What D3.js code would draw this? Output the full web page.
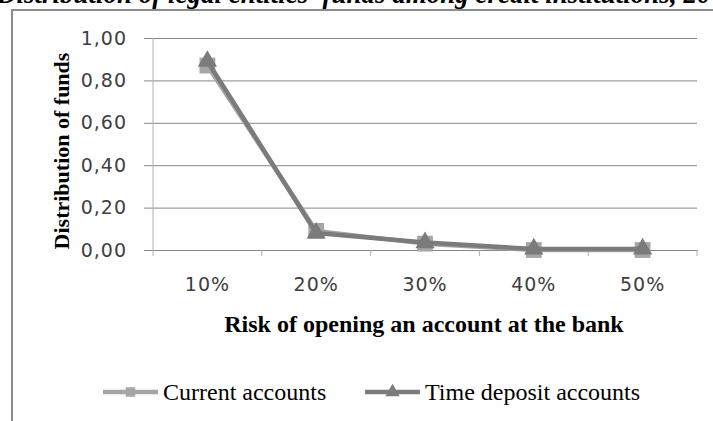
<!DOCTYPE html>
<html>
<head>
<meta charset="utf-8">
<script src="https://cdn.jsdelivr.net/npm/d3@7"></script>
<style>
  body { margin: 0; background: #fff; }
  svg { display: block; }
</style>
</head>
<body>
<div id="chart"></div>
<script>
// data
const categories = ['10%', '20%', '30%', '40%', '50%'];
const currentAccounts = [0.87, 0.09, 0.03, 0.00, 0.00];
const timeDeposits = [0.89, 0.08, 0.035, 0.005, 0.005];
const yTicks = [0, 0.2, 0.4, 0.6, 0.8, 1.0];

const width = 713, height = 421;
const margin = { top: 38, right: 16, bottom: 171, left: 153 };
const innerW = width - margin.left - margin.right;
const innerH = height - margin.top - margin.bottom;
const serif = '"Liberation Serif", "Times New Roman", serif';
const sans = '"DejaVu Sans", sans-serif';

const svg = d3.select('#chart').append('svg').attr('width', width).attr('height', height);

// title, cut off at the top of the page
svg.append('text').attr('x', -3).attr('y', 3)
  .style('font-family', serif).style('font-weight', 'bold')
  .style('font-style', 'italic').style('font-size', '27px').attr('fill', '#000')
  .text("Distribution of legal entities' funds among credit institutions, 20");

// chart frame (right and bottom edges fall outside the picture)
svg.append('rect').attr('x', 12).attr('y', 10).attr('width', 720).attr('height', 430)
  .attr('fill', 'none').attr('stroke', '#8c8c8c').attr('stroke-width', 2);

const g = svg.append('g').attr('transform', `translate(${margin.left},${margin.top})`);

const x = d3.scaleBand().domain(categories).range([0, innerW]);
const y = d3.scaleLinear().domain([0, 1]).range([innerH, 0]);

// grid lines and y axis
const yAxis = d3.axisLeft(y).tickValues(yTicks).tickSize(-innerW).tickPadding(26)
  .tickFormat(d => d3.format('.2f')(d).replace('.', ','));
const yg = g.append('g').call(yAxis);
yg.select('.domain').remove();
yg.selectAll('.tick line').attr('x1', -9).attr('stroke', '#878787');
yg.selectAll('.tick text').attr('fill', '#404040')
  .style('font-family', sans).style('font-size', '19px').style('letter-spacing', '1px');
g.append('line').attr('x1', 0).attr('x2', 0).attr('y1', 0).attr('y2', innerH + 6)
  .attr('stroke', '#b0b0b0');

// x axis
const xg = g.append('g').attr('transform', `translate(0,${innerH})`)
  .call(d3.axisBottom(x).tickSize(0).tickPadding(28));
xg.select('.domain').attr('stroke', '#878787');
xg.selectAll('.tick text').attr('fill', '#404040')
  .style('font-family', sans).style('font-size', '19px').style('letter-spacing', '1px');
categories.slice(1).concat(['end']).forEach(c => {
  const px = c === 'end' ? innerW : x(c);
  g.append('line').attr('x1', px).attr('x2', px).attr('y1', innerH).attr('y2', innerH + 6)
    .attr('stroke', '#b0b0b0');
});

// axis titles
svg.append('text').attr('transform', 'translate(69,151) rotate(-90)')
  .attr('text-anchor', 'middle')
  .style('font-family', serif).style('font-weight', 'bold').style('font-size', '22px')
  .text('Distribution of funds');
svg.append('text').attr('x', 424).attr('y', 332).attr('text-anchor', 'middle')
  .style('font-family', serif).style('font-weight', 'bold').style('font-size', '24px')
  .text('Risk of opening an account at the bank');

const cx = c => x(c) + x.bandwidth() / 2;
const series = [
  { name: 'Current accounts', values: currentAccounts, color: '#a6a6a6', symbol: d3.symbolSquare },
  { name: 'Time deposit accounts', values: timeDeposits, color: '#7b7b7b', symbol: d3.symbolTriangle }
];

const line = d3.line().x((d, i) => cx(categories[i])).y(d => y(d));
series.forEach(s => {
  g.append('path').datum(s.values).attr('d', line).attr('fill', 'none')
    .attr('stroke', s.color).attr('stroke-width', 4.5).attr('stroke-linejoin', 'round');
  g.selectAll(null).data(s.values).enter().append('path')
    .attr('d', d3.symbol().type(s.symbol).size(s.symbol === d3.symbolSquare ? 250 : 160))
    .attr('transform', (d, i) => `translate(${cx(categories[i])},${y(d)})`)
    .attr('fill', s.color);
});

// legend
const legend = svg.append('g').attr('transform', 'translate(0,392)');
const legendX = [103, 365];
series.forEach((s, i) => {
  const lg = legend.append('g').attr('transform', `translate(${legendX[i]},0)`);
  lg.append('line').attr('x1', 0).attr('x2', 55).attr('stroke', s.color).attr('stroke-width', 4.5);
  lg.append('path').attr('d', d3.symbol().type(s.symbol).size(90)).attr('transform', 'translate(27.5,0)')
    .attr('fill', s.color);
  lg.append('text').attr('x', 60).attr('dy', '0.33em')
    .style('font-family', serif).style('font-size', '24px').attr('fill', '#000')
    .text(s.name);
});
</script>
</body>
</html>
